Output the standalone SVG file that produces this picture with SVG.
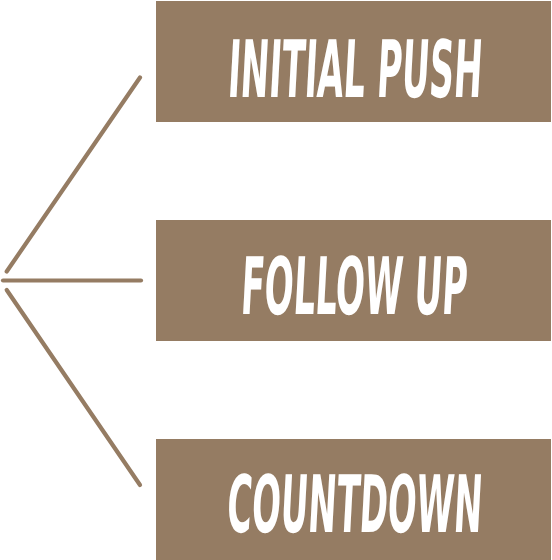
<svg xmlns="http://www.w3.org/2000/svg" width="552" height="560" viewBox="0 0 552 560">
<style>
.box{fill:#957c63}
.lbl{fill:#ffffff;font-family:"DejaVu Sans","Liberation Sans",sans-serif;font-stretch:condensed;font-weight:bold;font-size:40px}
.conn{stroke:#957c63;stroke-width:4.2;stroke-linecap:round;fill:none}
</style>
<g id="connectors">
<line class="conn" x1="6.7" y1="271.5" x2="140" y2="77.5"/>
<line class="conn" x1="3" y1="280.5" x2="141" y2="280.5"/>
<line class="conn" x1="6.7" y1="290" x2="140" y2="485"/>
</g>
<g id="initial-push">
<rect class="box" x="156" y="1" width="395" height="121"/>
<text class="lbl" transform="translate(227,97) scale(1,1.98) skewX(-6)" textLength="254" lengthAdjust="spacingAndGlyphs">INITIAL PUSH</text>
</g>
<g id="follow-up">
<rect class="box" x="156" y="220" width="395" height="121"/>
<text class="lbl" transform="translate(240,314) scale(1,1.98) skewX(-6)" textLength="226" lengthAdjust="spacingAndGlyphs">FOLLOW UP</text>
</g>
<g id="countdown">
<rect class="box" x="156" y="439" width="395" height="121"/>
<text class="lbl" transform="translate(226,532) scale(1,1.98) skewX(-6)" textLength="255" lengthAdjust="spacingAndGlyphs">COUNTDOWN</text>
</g>
</svg>
